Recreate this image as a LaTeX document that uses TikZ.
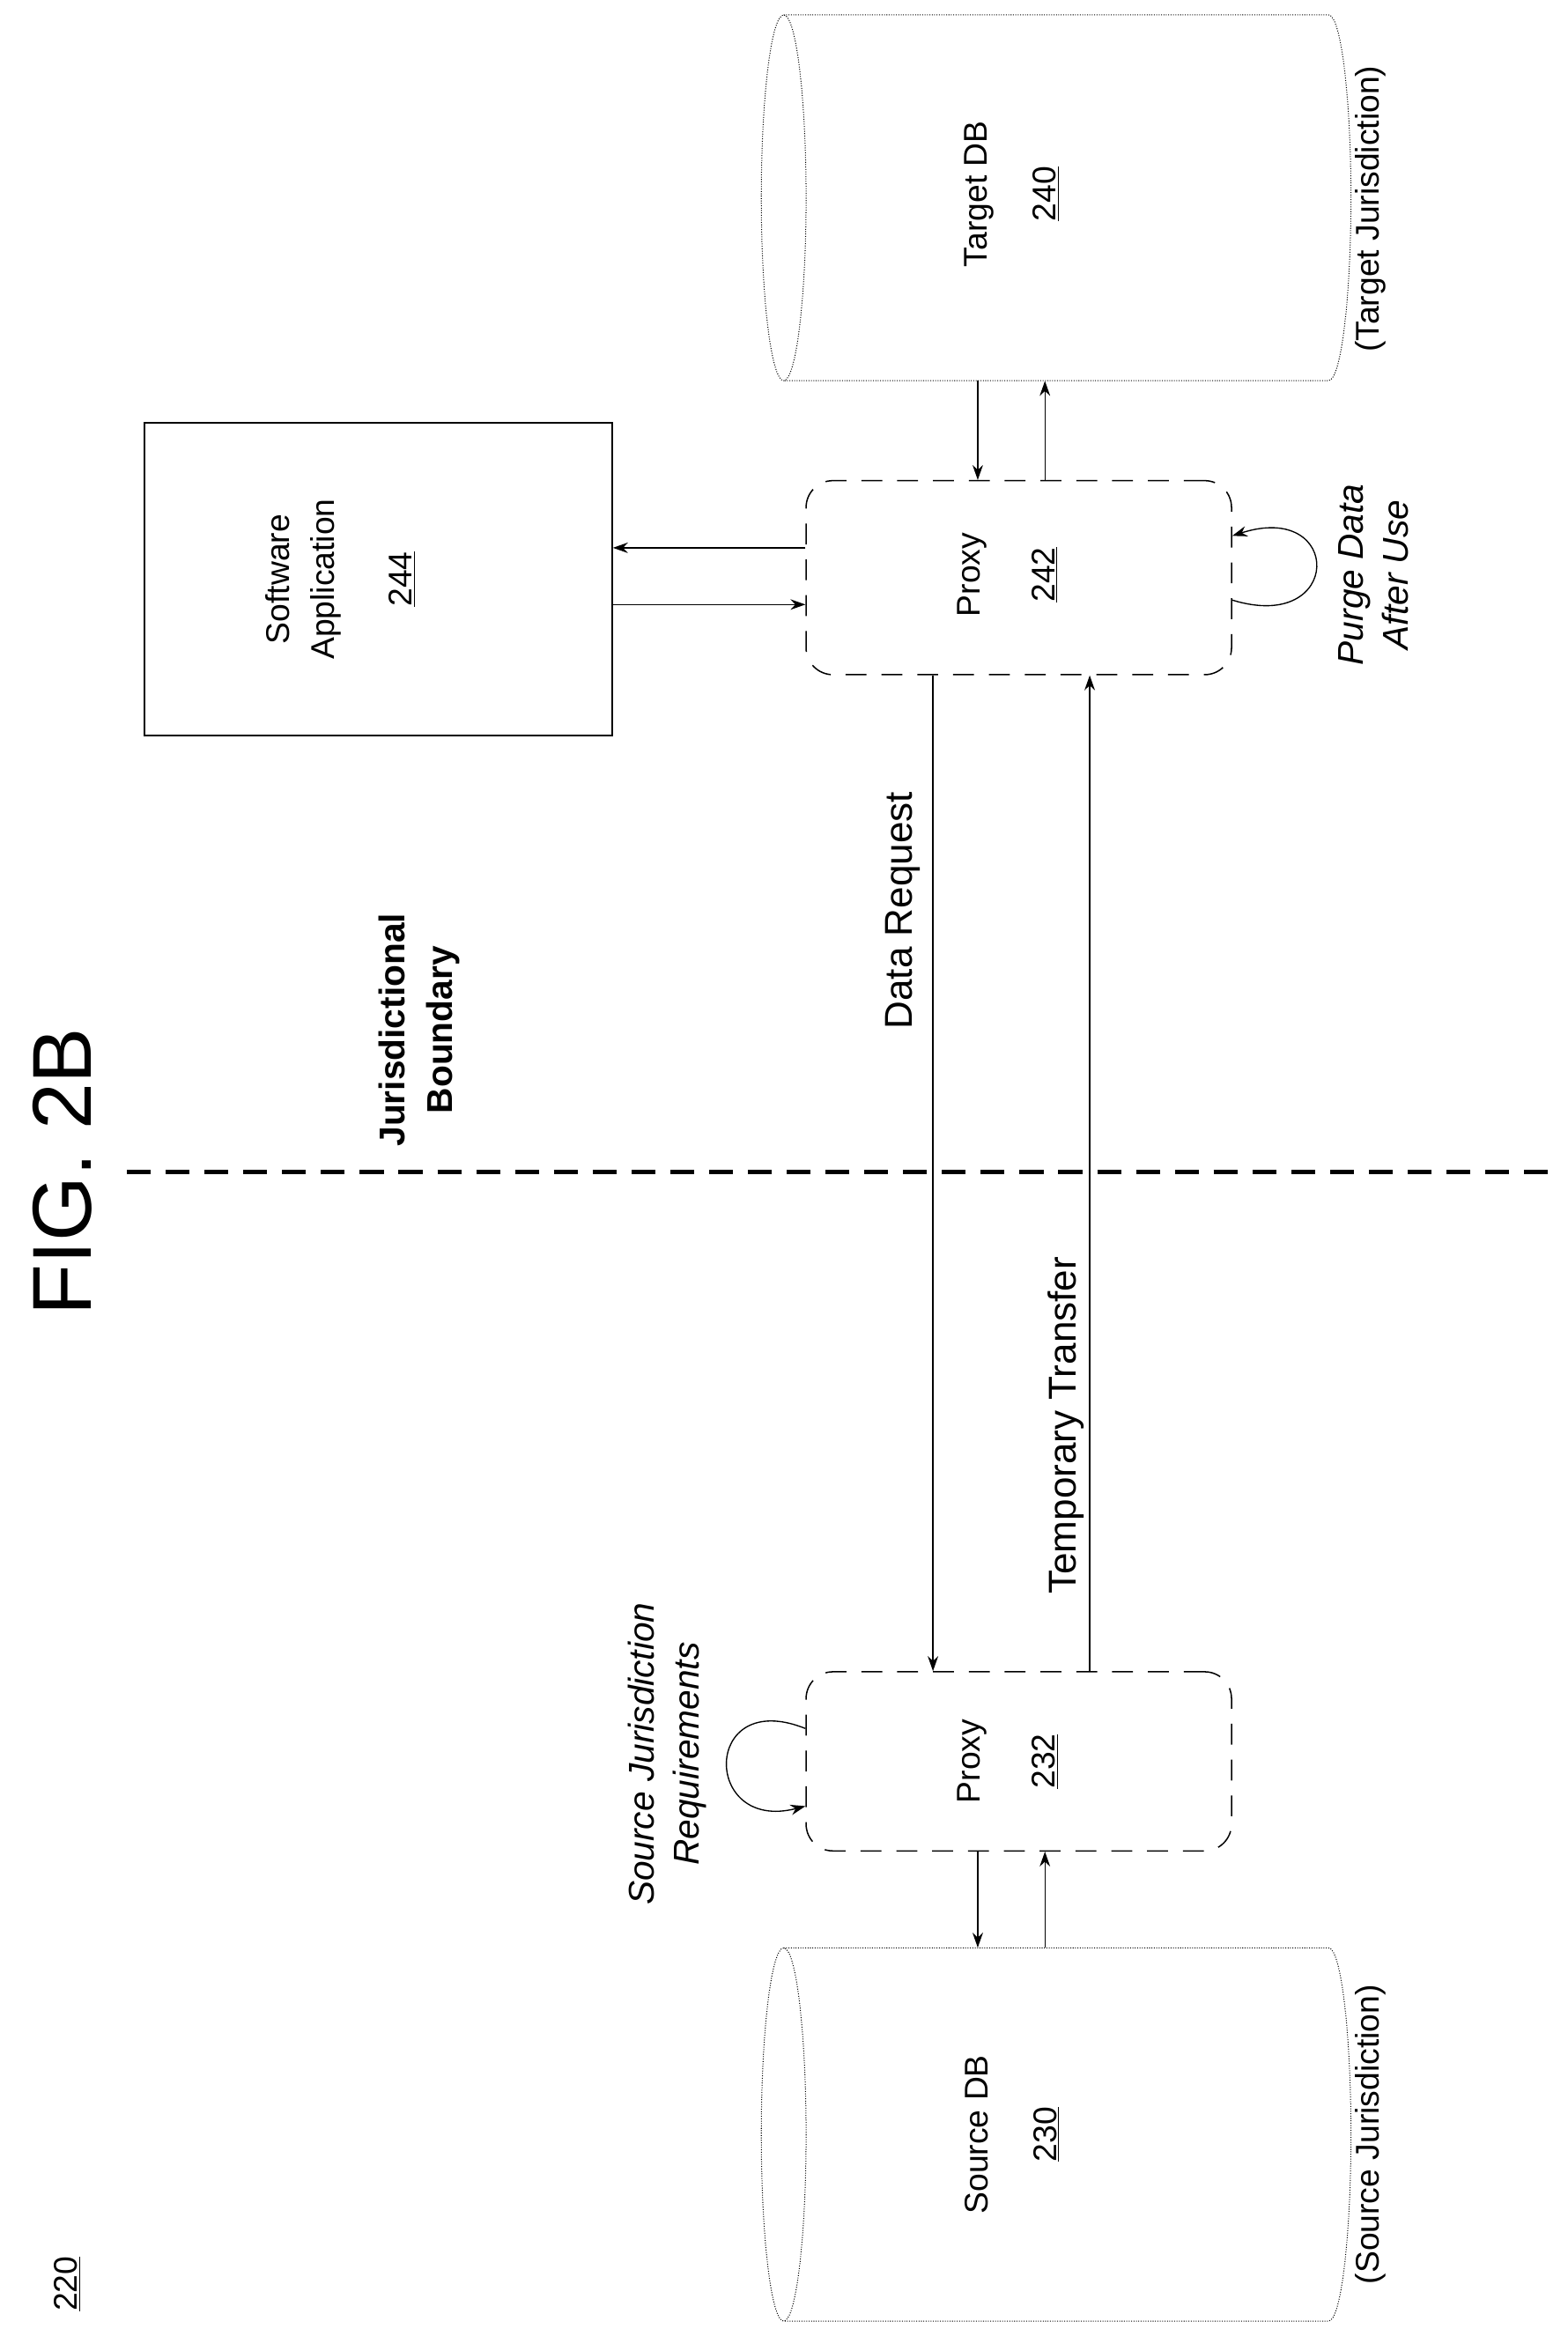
\documentclass[tikz,border=0pt]{standalone}
\usepackage{fontspec}
\setmainfont{Liberation Sans}
\usetikzlibrary{arrows.meta,calc}
\begin{document}
\begin{tikzpicture}[x=1pt,y=-1pt,
  lbl/.style={rotate=90,align=center,inner sep=0pt,font=\fontsize{22}{30}\selectfont},
  shp/.style={draw=none,inner sep=0pt},
  db/.style={line width=0.6pt,densely dotted},
  prox/.style={draw,line width=0.9pt,dash pattern=on 14pt off 10pt,rounded corners=18pt,inner sep=0pt,minimum width=285pt},
  arr/.style={line width=0.8pt,-{Stealth[length=10pt,width=7pt]}}]
\useasboundingbox (0,0) rectangle (1050,1565);
% title
\node[lbl,font=\fontsize{56}{60}\selectfont] (fig) at (42,785) {FIG. 2B};
\node[lbl] (n220) at (45,1530) {\underline{220}};
% boundary
\coordinate (b1) at (85,785);
\coordinate (b2) at (1040,785);
\draw[line width=3.2pt,dash pattern=on 16pt off 10pt] (b1) -- (b2);
\node[lbl,font=\fontsize{24}{32}\bfseries\selectfont] (jb) at (281,690) {Jurisdictional\\Boundary};
% target db
\node[shp,minimum width=395pt,minimum height=245pt] (tdb) at (707.5,132.5) {};
\draw[db] (525,132.5) ellipse[x radius=15,y radius=122.5];
\draw[db] (525,10) -- (890,10) arc[start angle=-90,end angle=90,x radius=15,y radius=122.5] -- (525,255);
\node[lbl,font=\fontsize{22}{46}\selectfont] (tdbt) at (678,130) {Target DB\\\underline{240}};
\node[lbl] (tj) at (918,140) {(Target Jurisdiction)};
% source db
\node[shp,minimum width=395pt,minimum height=250pt] (sdb) at (707.5,1430) {};
\draw[db] (525,1430) ellipse[x radius=15,y radius=125];
\draw[db] (525,1305) -- (890,1305) arc[start angle=-90,end angle=90,x radius=15,y radius=125] -- (525,1555);
\node[lbl,font=\fontsize{22}{46}\selectfont] (sdbt) at (678,1430) {Source DB\\\underline{230}};
\node[lbl] (sj) at (918,1430) {(Source Jurisdiction)};
% software application
\node[draw,line width=1.2pt,minimum width=313pt,minimum height=210pt,inner sep=0pt] (sw) at (253.5,388) {};
\node[lbl] (swt) at (228,388) {Software\\Application\\[22pt]\underline{244}};
% proxies
\node[prox,minimum height=130pt] (p242) at (682.5,387) {};
\node[lbl,font=\fontsize{22}{50}\selectfont] (p242t) at (675,385) {Proxy\\\underline{242}};
\node[prox,minimum height=120pt] (p232) at (682.5,1180) {};
\node[lbl,font=\fontsize{22}{50}\selectfont] (p232t) at (675,1180) {Proxy\\\underline{232}};
% arrows target db <-> proxy 242
\draw[arr] ([xshift=-27.5pt]p242.north |- tdb.south) -- ([xshift=-27.5pt]p242.north);
\draw[arr] ([xshift=17.5pt]p242.north) -- ([xshift=17.5pt]p242.north |- tdb.south);
% proxy 242 <-> software
\draw[arr] ([yshift=20pt]p242.west) -- ([yshift=20pt]p242.west -| sw.east);
\draw[arr] ([yshift=-18pt]p242.west -| sw.east) -- ([yshift=-18pt]p242.west);
% data request / temporary transfer
\draw[arr] ([xshift=-57.5pt]p242.south) -- ([xshift=-57.5pt]p232.north);
\draw[arr] ([xshift=47.5pt]p232.north) -- ([xshift=47.5pt]p242.south);
\node[lbl,font=\fontsize{26}{30}\selectfont] (dr) at (605,610) {Data Request};
\node[lbl,font=\fontsize{26}{30}\selectfont] (tt) at (714,955) {Temporary Transfer};
% proxy 232 <-> source db
\draw[arr] ([xshift=-27.5pt]p232.south) -- ([xshift=-27.5pt]p232.south |- sdb.north);
\draw[arr] ([xshift=17.5pt]p232.south |- sdb.north) -- ([xshift=17.5pt]p232.south);
% self loops
\draw[arr] ([yshift=-15pt]p242.east) .. controls (900,425) and (900,335) .. ([yshift=28pt]p242.east);
\node[lbl,font=\fontsize{24}{30}\itshape\selectfont] (pd) at (920,385) {Purge Data\\After Use};
\draw[arr] ([yshift=22pt]p232.west) .. controls (470,1130) and (470,1228) .. ([yshift=-30pt]p232.west);
\node[lbl,font=\fontsize{24}{30}\itshape\selectfont] (sjr) at (447,1175) {Source Jurisdiction\\Requirements};
\end{tikzpicture}
\end{document}
